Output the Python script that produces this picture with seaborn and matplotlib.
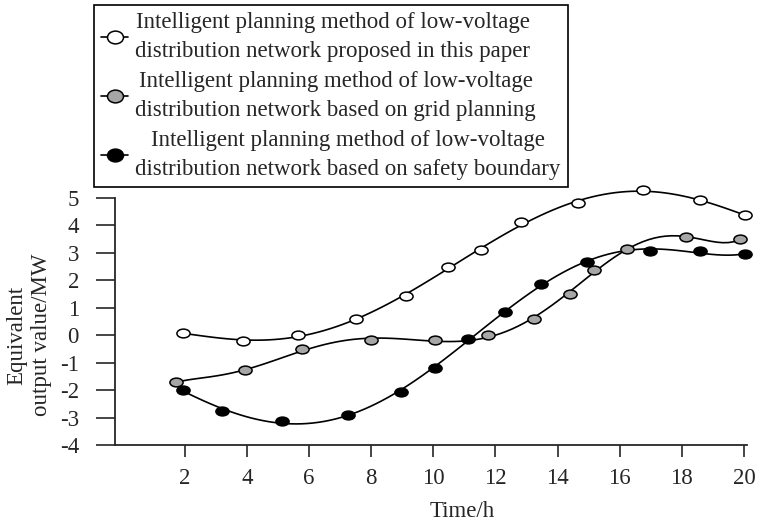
import matplotlib
matplotlib.use("Agg")
import matplotlib.pyplot as plt
from matplotlib.lines import Line2D
from matplotlib.path import Path
from matplotlib.transforms import Affine2D
import pandas as pd
import seaborn as sns

# ---- data ----
labels = [
    "Intelligent planning method of low-voltage\ndistribution network proposed in this paper",
    "Intelligent planning method of low-voltage\ndistribution network based on grid planning",
    "Intelligent planning method of low-voltage\ndistribution network based on safety boundary",
]
face_colors = ["white", "#a6a6a6", "black"]

x_proposed = [1.93, 3.88, 5.65, 7.50, 9.12, 10.48, 11.53, 12.82, 14.66, 16.76, 18.59, 20.05]
y_proposed = [0.08, -0.21, 0.01, 0.58, 1.43, 2.49, 3.10, 4.11, 4.82, 5.28, 4.91, 4.37]

x_grid = [1.73, 3.94, 5.78, 7.99, 10.06, 11.75, 13.25, 14.40, 15.18, 16.23, 18.15, 19.87]
y_grid = [-1.71, -1.28, -0.51, -0.19, -0.19, 0.01, 0.58, 1.52, 2.37, 3.15, 3.57, 3.49]

x_safety = [1.93, 3.21, 5.13, 7.26, 8.95, 10.05, 11.11, 12.30, 13.46, 14.94, 16.97, 18.58, 20.05]
y_safety = [-2.00, -2.76, -3.12, -2.90, -2.08, -1.19, -0.13, 0.86, 1.87, 2.66, 3.07, 3.07, 2.95]

series = [(x_proposed, y_proposed), (x_grid, y_grid), (x_safety, y_safety)]
fit_order = [5, 7, 6]

FS = 16.5

sns.set_style("ticks")
plt.rcParams["font.family"] = ["Liberation Serif", "DejaVu Serif"]
plt.rcParams["font.size"] = FS
plt.rcParams["axes.unicode_minus"] = False

# flattened ellipse markers, like the source figure
flat_marker = Path.unit_circle().transformed(Affine2D().scale(1.5, 1.0))
legend_marker = Path.unit_circle().transformed(Affine2D().scale(1.25, 1.0))

fig = plt.figure(figsize=(7.6, 5.23), dpi=100)
ax = fig.add_axes([115 / 760, 1 - 445 / 523, 632 / 760, 247 / 523])

for (xs, ys), fc, order in zip(series, face_colors, fit_order):
    df = pd.DataFrame({"x": xs, "y": ys})
    sns.regplot(data=df, x="x", y="y", order=order, ci=None, scatter=False,
                line_kws={"color": "black", "lw": 1.2, "clip_on": False}, ax=ax)
    sns.scatterplot(data=df, x="x", y="y", marker=flat_marker, s=90, color=fc,
                    edgecolor="black", linewidth=1.1, clip_on=False, zorder=5, ax=ax)

ax.set_xlim(-0.25, 20.1)
ax.set_ylim(-4, 5)
ax.set_xticks(range(2, 21, 2))
ax.set_yticks(range(-4, 6))
ax.tick_params(axis="y", length=14, width=1.2, pad=12, labelsize=FS)
ax.tick_params(axis="x", length=8.5, width=1.2, pad=8, labelsize=FS)
sns.despine(ax=ax)
for s in ["left", "bottom"]:
    ax.spines[s].set_linewidth(1.3)

ax.set_xlabel("Time/h", fontsize=FS, va="top")
ax.xaxis.set_label_coords(0.549, -0.225)
ax.set_ylabel("Equivalent\noutput value/MW", fontsize=FS, linespacing=1.25)
ax.yaxis.set_label_coords(-0.1, 0.445)

handles = [
    Line2D([], [], color="black", lw=1.2, marker=legend_marker, markersize=11.5,
           markerfacecolor=fc, markeredgecolor="black", markeredgewidth=1.1)
    for fc in face_colors
]
leg = fig.legend(handles, labels, loc="upper left", bbox_to_anchor=(94 / 760, 1 - 5 / 523),
                 frameon=True, fancybox=False, edgecolor="black", framealpha=1,
                 handlelength=1.2, handletextpad=0.3, borderpad=0.3, labelspacing=0.4,
                 borderaxespad=0, fontsize=FS)
leg.get_frame().set_linewidth(1.2)
for t in leg.get_texts():
    t.set_multialignment("center")
    t.set_linespacing(1.5)

fig.savefig("out.png", dpi=100)
